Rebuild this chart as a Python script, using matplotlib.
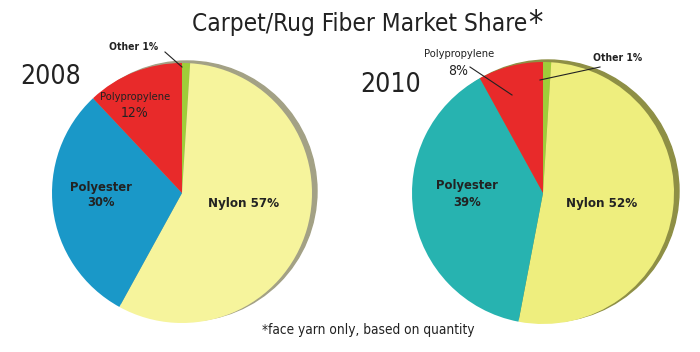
import matplotlib
matplotlib.use("Agg")
from matplotlib import pyplot as plt
from matplotlib.patches import Circle

# market share data (percent), order drawn clockwise from 12 o'clock
labels = ['Other', 'Nylon', 'Polyester', 'Polypropylene']
share_2008 = [1, 57, 30, 12]
share_2010 = [1, 52, 39, 8]

colors_2008 = ['#9fcd3a', '#f6f49c', '#1a98c8', '#e82a2a']
colors_2010 = ['#9fcd3a', '#eeee7e', '#27b3b0', '#e82a2a']

plt.rcParams['font.family'] = ['DejaVu Sans']
plt.rcParams['font.stretch'] = 'condensed'

fig = plt.figure(figsize=(7, 3.52), dpi=100)
ax = fig.add_axes([0, 0, 1, 1])
ax.set_aspect('equal')
ax.axis('off')

H = 352


def draw_pie(values, colors, cx, cy, r, rim):
    # darker rim on the upper right, gives the 3D look
    ax.add_patch(Circle((cx + 5, H - cy + 2), r, color=rim, zorder=1))
    ax.pie(values, colors=colors, startangle=90, counterclock=False,
           center=(cx, H - cy), radius=r,
           wedgeprops=dict(linewidth=0, zorder=2))


draw_pie(share_2008, colors_2008, 182, 193, 130, '#a3a185')
draw_pie(share_2010, colors_2010, 543, 193, 131, '#8e8f45')
ax.set_xlim(0, 700)
ax.set_ylim(0, 352)

ink = '#222222'
txt = dict(color=ink, ha='center', va='center', zorder=5)
base = dict(color=ink, ha='center', va='baseline', zorder=5)

# title and headings
ax.text(360, H - 31, 'Carpet/Rug Fiber Market Share', fontsize=17.5, **base)
ax.text(528, H - 32, '*', fontsize=23, color=ink, ha='left', va='baseline')
ax.text(51, H - 84, '2008', fontsize=19, **base)
ax.text(391, H - 92, '2010', fontsize=19, **base)
ax.text(368, H - 330, '*face yarn only, based on quantity', fontsize=9.8, **txt)


def leader(x0, y0, x1, y1):
    ax.plot([x0, x1], [H - y0, H - y1], color=ink, lw=0.8, zorder=5)


# 2008 labels
ax.text(135, H - 97, labels[3], fontsize=8, **txt)
ax.text(135, H - 113, f'{share_2008[3]}%', fontsize=10, **txt)
ax.text(101, H - 187, labels[2], fontsize=9.3, fontweight='bold', **txt)
ax.text(101, H - 203, f'{share_2008[2]}%', fontsize=9.3, fontweight='bold', **txt)
ax.text(244, H - 204, f'{labels[1]} {share_2008[1]}%', fontsize=9.5,
        fontweight='bold', **txt)
ax.text(134, H - 47, f'{labels[0]} {share_2008[0]}%', fontsize=7.5,
        fontweight='bold', **txt)
leader(165, 52, 182, 67)

# 2010 labels
ax.text(459, H - 54, labels[3], fontsize=8, **txt)
ax.text(458, H - 71, f'{share_2010[3]}%', fontsize=10, **txt)
leader(470, 67, 512, 95)
ax.text(467, H - 185, labels[2], fontsize=9.3, fontweight='bold', **txt)
ax.text(467, H - 202, f'{share_2010[2]}%', fontsize=9.3, fontweight='bold', **txt)
ax.text(602, H - 204, f'{labels[1]} {share_2010[1]}%', fontsize=9.5,
        fontweight='bold', **txt)
ax.text(618, H - 58, f'{labels[0]} {share_2010[0]}%', fontsize=7.5,
        fontweight='bold', **txt)
leader(600, 67, 540, 80)

fig.savefig('out.png', dpi=100)
